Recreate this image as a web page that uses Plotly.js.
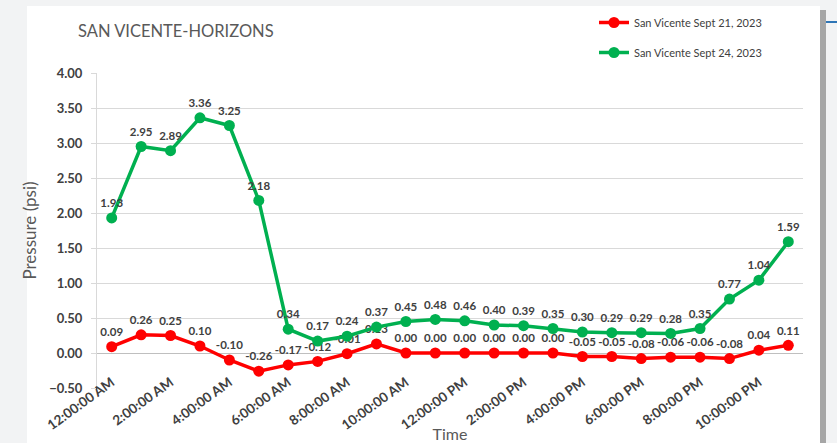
<!DOCTYPE html>
<html>
<head>
<meta charset="utf-8">
<script src="https://cdn.plot.ly/plotly-3.0.1.min.js"></script>
<style>html,body{margin:0;padding:0;background:#f2f3f4;}#chart{width:837px;height:443px;}</style>
</head>
<body>
<div id="chart"></div>
<script>
const times = ["12:00:00 AM","1:00:00 AM","2:00:00 AM","3:00:00 AM","4:00:00 AM","5:00:00 AM",
  "6:00:00 AM","7:00:00 AM","8:00:00 AM","9:00:00 AM","10:00:00 AM","11:00:00 AM",
  "12:00:00 PM","1:00:00 PM","2:00:00 PM","3:00:00 PM","4:00:00 PM","5:00:00 PM",
  "6:00:00 PM","7:00:00 PM","8:00:00 PM","9:00:00 PM","10:00:00 PM","11:00:00 PM"];
const sept21 = [0.09,0.26,0.25,0.10,-0.10,-0.26,-0.17,-0.12,-0.01,0.13,0.00,0.00,
  0.00,0.00,0.00,0.00,-0.05,-0.05,-0.08,-0.06,-0.06,-0.08,0.04,0.11];
const sept24 = [1.93,2.95,2.89,3.36,3.25,2.18,0.34,0.17,0.24,0.37,0.45,0.48,
  0.46,0.40,0.39,0.35,0.30,0.29,0.29,0.28,0.35,0.77,1.04,1.59];
const tickLabels = ["12:00:00 AM","2:00:00 AM","4:00:00 AM","6:00:00 AM","8:00:00 AM","10:00:00 AM",
  "12:00:00 PM","2:00:00 PM","4:00:00 PM","6:00:00 PM","8:00:00 PM","10:00:00 PM"];
const tickVals = tickLabels.slice();

const F = "Lato, 'Open Sans', sans-serif";

const traces = [
  {x: times, y: sept21, name: "San Vicente Sept 21, 2023", legendgroup:"a",
   mode: "lines+markers+text", line:{color:"#ff0000", width:3.5}, marker:{color:"#ff0000", size:11},
   text: sept21.map(v=>v.toFixed(2)), textposition:"top center",
   textfont:{family:F, size:11.5, color:"#404040", weight:700}, cliponaxis:false},
  {x: times, y: sept24, name: "San Vicente Sept 24, 2023", legendgroup:"b",
   mode: "lines+markers+text", line:{color:"#00b050", width:3.5}, marker:{color:"#00b050", size:11},
   text: sept24.map(v=>v.toFixed(2)), textposition:"top center",
   textfont:{family:F, size:11.5, color:"#404040", weight:700}, cliponaxis:false}
];

const layout = {
  width: 837, height: 443,
  paper_bgcolor: "#f2f3f4", plot_bgcolor: "#ffffff",
  margin: {l: 97, r: 34, t: 73, b: 55, autoexpand: false},
  font: {family: F, color: "#404040"},
  title: {text: "SAN VICENTE-HORIZONS", x: 78/837, xanchor: "left", y: 1-31/443, yanchor: "middle",
          font: {family: F, size: 16.5, color: "#595959"}},
  showlegend: true,
  legend: {xref: "container", yref: "container", x: 594/837, xanchor: "left", y: 1-8/443, yanchor: "top",
           bgcolor: "rgba(0,0,0,0)", font: {family: F, size: 11, color: "#404040"},
           traceorder: "grouped", tracegroupgap: 11, itemwidth: 30},
  xaxis: {type: "category", categoryorder: "array", categoryarray: times,
          tickmode: "array", tickvals: tickVals, ticktext: tickLabels, tickangle: -36,
          tickfont: {family: F, size: 13.5, color: "#404040", weight: 700},
          ticklabelstandoff: -17,
          showgrid: false, zeroline: false, showline: false, ticks: "", automargin: false,
          range: [-0.5, 23.5],
          title: {text: "Time", font: {family: F, size: 16, color: "#595959"}, standoff: 0}},
  yaxis: {range: [-0.5, 4.0], dtick: 0.5, tickformat: ".2f",
          tickfont: {family: F, size: 13, color: "#404040", weight: 700},
          ticklabelstandoff: 6,
          gridcolor: "#d9d9d9", gridwidth: 1, zeroline: true, zerolinecolor: "#bfbfbf", zerolinewidth: 1,
          showline: true, linecolor: "#d9d9d9", linewidth: 1,
          ticks: "outside", ticklen: 5, tickcolor: "#d9d9d9", automargin: false,
          title: {text: "Pressure (psi)", font: {family: F, size: 17, color: "#595959"}, standoff: 8}},
  shapes: [
    {type:"rect", xref:"paper", yref:"paper", x0:(27-97)/706, x1:(820-97)/706, y0:-(443-388+5)/315, y1:1+(73-6)/315,
     fillcolor:"#ffffff", line:{width:0}, layer:"below"},
    {type:"rect", xref:"paper", yref:"paper", x0:(820-97)/706, x1:(826-97)/706, y0:-(443-388+5)/315, y1:1+(73-10)/315,
     fillcolor:"#a6a6a6", line:{width:0}, layer:"below"},
    {type:"line", xref:"paper", yref:"paper", x0:(826-97)/706, x1:(840-97)/706, y0:1+(73-22)/315, y1:1+(73-22)/315,
     line:{color:"#2e75b6", width:2}, layer:"below"}
  ]
};

Plotly.newPlot("chart", traces, layout, {displayModeBar:false, staticPlot:true});
</script>
</body>
</html>
